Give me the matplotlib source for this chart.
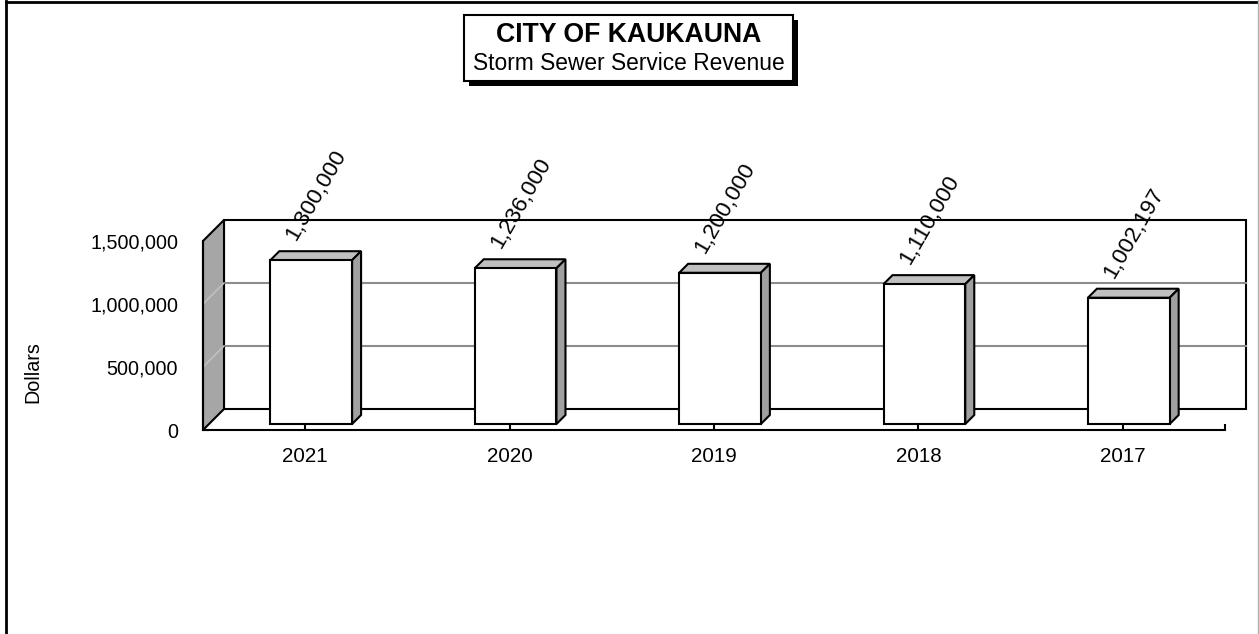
import numpy as np
import matplotlib
matplotlib.use("Agg")
import matplotlib.pyplot as plt
from matplotlib.patches import Polygon, Rectangle
from matplotlib.lines import Line2D
from matplotlib.ticker import FuncFormatter

plt.rcParams["font.family"] = ["Liberation Sans", "DejaVu Sans"]

# data
years = ["2021", "2020", "2019", "2018", "2017"]
revenue = [1300000, 1236000, 1200000, 1110000, 1002197]
revenue_labels = ["1,300,000", "1,236,000", "1,200,000", "1,110,000", "1,002,197"]
y_ticks = [0, 500000, 1000000, 1500000]

W, H = 1259, 634
fig = plt.figure(figsize=(W / 100, H / 100), dpi=100)
fig.patch.set_facecolor("white")

# front plane of the 3d plot area (pixels: x 203-1225, y 430 -> 241)
ax = fig.add_axes([203 / W, (H - 430) / H, 1022 / W, 189 / H])
ax.set_xlim(-0.5, 4.5)
ax.set_ylim(0, 1500000)
ax.patch.set_alpha(0)

# depth offset of the box (21px right, 21px up)
DX = 21 / (1022 / 5)
DY = 21 * 1500000 / 189
f0, f1 = 0.286, 0.714  # bar front / back depth fraction
bw = 0.40
ymax = 1500000

# back wall
ax.add_patch(Rectangle((-0.5 + DX, DY), 5, ymax, facecolor="white",
                       edgecolor="black", lw=1.5, zorder=1, clip_on=False))
for v in y_ticks[1:-1]:
    ax.plot([-0.5 + DX, 4.5 + DX], [v + DY, v + DY], color="#8c8c8c",
            lw=1.5, zorder=1.5, clip_on=False)

# left side wall
ax.add_patch(Polygon([(-0.5, 0), (-0.5 + DX, DY), (-0.5 + DX, ymax + DY), (-0.5, ymax)],
                     closed=True, facecolor="#a6a6a6", edgecolor="black", lw=1.5,
                     zorder=2, clip_on=False))
for v in y_ticks[1:-1]:
    ax.plot([-0.5, -0.5 + DX], [v, v + DY], color="#c0c0c0", lw=1.2,
            zorder=2.5, clip_on=False)

# bars
x = np.arange(len(years))
d = f1 - f0
for xi, v in zip(x, revenue):
    x0 = xi + f0 * DX - bw / 2
    y0 = f0 * DY
    top = [(x0, y0 + v), (x0 + bw, y0 + v), (x0 + bw + d * DX, y0 + v + d * DY),
           (x0 + d * DX, y0 + v + d * DY)]
    side = [(x0 + bw, y0), (x0 + bw + d * DX, y0 + d * DY),
            (x0 + bw + d * DX, y0 + v + d * DY), (x0 + bw, y0 + v)]
    ax.add_patch(Polygon(top, closed=True, facecolor="#c0c0c0", edgecolor="black",
                         lw=1.5, zorder=3, clip_on=False))
    ax.add_patch(Polygon(side, closed=True, facecolor="#a0a0a0", edgecolor="black",
                         lw=1.5, zorder=3, clip_on=False))
ax.bar(x + f0 * DX, revenue, width=bw, bottom=f0 * DY, color="white",
       edgecolor="black", linewidth=1.5, zorder=4)

# value labels
for xi, v, lab in zip(x, revenue, revenue_labels):
    ax.text(xi - 0.045, v + 195000, lab, rotation=60, rotation_mode="anchor",
            ha="left", va="baseline", fontsize=16.2, zorder=6)

# axes
for s in ["top", "right"]:
    ax.spines[s].set_visible(False)
for s in ["left", "bottom"]:
    ax.spines[s].set_linewidth(1.5)
    ax.spines[s].set_zorder(5)
ax.set_yticks(y_ticks)
ax.yaxis.set_major_formatter(FuncFormatter(lambda v, p: f"{int(v):,}"))
ax.set_xticks(x)
ax.set_xticklabels(years)
ax.set_xticks([4.5], minor=True)
ax.tick_params(axis="y", direction="in", length=4.5, width=1.5, pad=18,
               labelsize=14.2)
ax.tick_params(axis="x", which="both", direction="in", length=4.5, width=1.5,
               pad=12, labelsize=14.8)

fig.text(33 / W, 1 - 372 / H, "Dollars", rotation=90, ha="center", va="center",
         fontsize=14.2)

# title box with drop shadow
bx0, bx1, by0, by1 = 464, 793, 15, 81
fig.add_artist(Rectangle(((bx0 + 5) / W, 1 - (by1 + 5) / H), (bx1 - bx0) / W,
                         (by1 - by0) / H, transform=fig.transFigure,
                         facecolor="black", edgecolor="black", lw=0))
fig.add_artist(Rectangle((bx0 / W, 1 - by1 / H), (bx1 - bx0) / W, (by1 - by0) / H,
                         transform=fig.transFigure, facecolor="white",
                         edgecolor="black", lw=1.5))
fig.text(629 / W, 1 - 35 / H, "CITY OF KAUKAUNA", ha="center", va="center",
         fontsize=19.2, fontweight="bold")
fig.text(628.5 / W, 1 - 63 / H, "Storm Sewer Service Revenue", ha="center",
         va="center", fontsize=16.4)

# outer frame
fig.add_artist(Line2D([6 / W, 6 / W], [0, 1 - 1 / H], transform=fig.transFigure,
                      color="black", lw=2))
fig.add_artist(Line2D([6 / W, 1], [1 - 1.5 / H, 1 - 1.5 / H],
                      transform=fig.transFigure, color="black", lw=2))
fig.add_artist(Line2D([1 - 1 / W, 1 - 1 / W], [0, 1], transform=fig.transFigure,
                      color="#b0b0b0", lw=1))

fig.savefig("out.png", dpi=100)
